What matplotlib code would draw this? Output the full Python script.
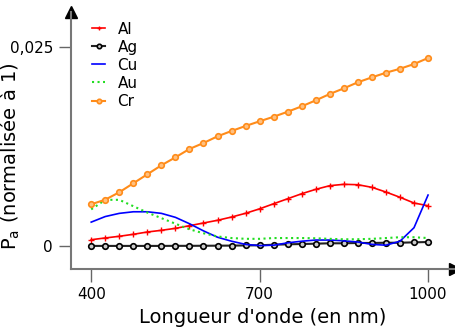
import numpy as np
import matplotlib
matplotlib.use("Agg")
import matplotlib.pyplot as plt

# longueurs d'onde (nm)
wl = np.arange(400, 1001, 25)

al = [0.00079, 0.00101, 0.00122, 0.00147, 0.00176, 0.00197, 0.00222, 0.00255, 0.00289,
      0.00323, 0.00364, 0.00411, 0.00467, 0.00531, 0.00594, 0.00657, 0.00712, 0.00758,
      0.00775, 0.00770, 0.00737, 0.00678, 0.00612, 0.00540, 0.00506]
ag = [0.00001, 0.00001, 0.00001, 0.00001, 0.00001, 0.00001, 0.00002, 0.00002, 0.00003,
      0.00004, 0.00005, 0.00007, 0.00009, 0.00016, 0.00021, 0.00025, 0.00029, 0.00034,
      0.00034, 0.00038, 0.00038, 0.00041, 0.00041, 0.00046, 0.00050]
cu = [0.0030, 0.0037, 0.0041, 0.0043, 0.0043, 0.0041, 0.0036, 0.0028, 0.0019, 0.0011,
      0.0006, 0.0002, 0.00005, 0.0001, 0.0004, 0.0006, 0.00075, 0.00075, 0.00065, 0.0005,
      0.0002, 0.0001, 0.0006, 0.0023, 0.0064]
au = [0.0046, 0.0058, 0.0058, 0.0050, 0.0042, 0.0035, 0.0028, 0.0021, 0.0016, 0.0012,
      0.0010, 0.0009, 0.0009, 0.0010, 0.0010, 0.0010, 0.00097, 0.0009, 0.00084, 0.00085,
      0.0009, 0.0010, 0.0011, 0.0011, 0.0010]
cr = [0.00524, 0.00582, 0.00675, 0.00788, 0.00901, 0.01014, 0.01114, 0.01219, 0.01294,
      0.01378, 0.01445, 0.01508, 0.01567, 0.01624, 0.01687, 0.01755, 0.01830, 0.01910,
      0.01981, 0.02057, 0.02119, 0.02177, 0.02227, 0.02286, 0.02362]

fig = plt.figure(figsize=(4.56, 3.27), dpi=100)
ax = fig.add_axes([71/456, 58/327, 384/456, 257/327])

ax.plot(wl, al, color="red", marker="+", ms=4, lw=1.2, label="Al")
ax.plot(wl, ag, color="#222222", marker="o", ms=4, mfc="#cccccc", mec="black", mew=1.2, lw=1.5, label="Ag")
ax.plot(wl, cu, color="blue", lw=1.2, label="Cu")
ax.plot(wl, au, color="#22dd22", ls=":", lw=1.5, label="Au")
ax.plot(wl, cr, color="#ff8c1a", marker="o", ms=4, mfc="#ffc080", mec="#ff8c1a", mew=1.2, lw=1.5, label="Cr")

ax.set_xlim(364, 1048)
ax.set_ylim(-0.00289, 0.0294)
ax.set_xticks([400, 700, 1000])
ax.set_yticks([0, 0.025])
ax.set_yticklabels(["0", "0,025"])
ax.tick_params(length=9, width=1, color="#666666", labelsize=11, pad=4)

for s in ["top", "right"]:
    ax.spines[s].set_visible(False)
for s in ["left", "bottom"]:
    ax.spines[s].set_color("#777777")
    ax.spines[s].set_linewidth(1.5)
# fleches au bout des axes
ax.plot(0, 1, marker="^", ms=8, color="black", transform=ax.transAxes, clip_on=False)
ax.plot(1, 0, marker=">", ms=8, color="black", transform=ax.transAxes, clip_on=False)

ax.set_xlabel("Longueur d'onde (en nm)", fontsize=14, labelpad=4)
ax.set_ylabel(r"P$_\mathrm{a}$ (normalisée à 1)", fontsize=14)
ax.yaxis.set_label_coords(-49/384, 0.44)

ax.legend(loc="upper left", bbox_to_anchor=(84/456, 1 - 14/327), bbox_transform=fig.transFigure,
          frameon=False, fontsize=11, handlelength=0.9, handletextpad=0.8,
          labelspacing=0.2, borderpad=0, markerscale=0.8)

fig.savefig("out.png", dpi=100)
